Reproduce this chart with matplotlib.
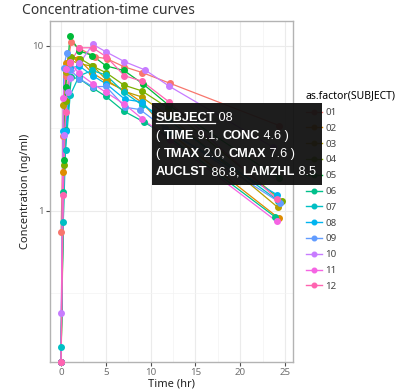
import numpy as np
import matplotlib
matplotlib.use("Agg")
import matplotlib.pyplot as plt
from matplotlib.lines import Line2D
from matplotlib.patches import Rectangle

plt.rcParams['font.family'] = ['Noto Sans', 'DejaVu Sans']

SUBJECTS = ["01", "02", "03", "04", "05", "06", "07", "08", "09", "10", "11", "12"]

TIMES = [
    [0, 0.25, 0.57, 1.12, 2.02, 3.82, 5.10, 7.03, 9.05, 12.12, 24.37],
    [0, 0.27, 0.52, 1.00, 1.92, 3.50, 5.02, 7.03, 9.00, 12.00, 24.30],
    [0, 0.27, 0.58, 1.02, 2.02, 3.62, 5.08, 7.07, 9.00, 12.15, 24.17],
    [0, 0.35, 0.60, 1.07, 2.13, 3.50, 5.02, 7.02, 9.02, 11.98, 24.65],
    [0, 0.30, 0.52, 1.00, 2.02, 3.50, 5.02, 7.02, 9.10, 12.00, 24.35],
    [0, 0.27, 0.58, 1.15, 2.03, 3.57, 5.00, 7.00, 9.22, 12.10, 23.85],
    [0, 0.25, 0.50, 1.02, 2.02, 3.48, 5.00, 6.98, 9.00, 12.05, 24.22],
    [0, 0.25, 0.52, 0.98, 2.02, 3.53, 5.05, 7.15, 9.07, 12.10, 24.12],
    [0, 0.30, 0.63, 1.05, 2.02, 3.53, 5.02, 7.17, 8.80, 11.60, 24.43],
    [0, 0.37, 0.77, 1.02, 2.05, 3.55, 5.05, 7.08, 9.38, 12.10, 23.70],
    [0, 0.25, 0.50, 0.98, 1.98, 3.60, 5.02, 7.03, 9.03, 12.12, 24.08],
    [0, 0.25, 0.50, 1.00, 2.00, 3.52, 5.07, 7.07, 9.03, 12.05, 24.15],
]

CONCS = [
    [0.74, 2.84, 6.57, 10.50, 9.66, 8.58, 8.36, 7.47, 6.89, 5.94, 3.28],
    [0.00, 1.72, 7.91, 8.31, 8.33, 6.85, 6.08, 5.40, 4.55, 3.01, 0.90],
    [0.00, 4.40, 6.90, 8.20, 7.80, 7.50, 6.20, 5.30, 4.90, 3.70, 1.05],
    [0.00, 1.89, 4.60, 8.60, 8.38, 7.54, 6.88, 5.78, 5.33, 4.19, 1.15],
    [0.00, 2.02, 5.63, 11.40, 9.33, 8.74, 7.56, 7.09, 5.90, 4.37, 1.57],
    [0.00, 1.29, 3.08, 6.44, 6.32, 5.53, 4.94, 4.02, 3.46, 2.78, 0.92],
    [0.15, 0.85, 2.35, 5.02, 6.58, 7.09, 6.66, 5.25, 4.39, 3.53, 1.15],
    [0.00, 3.05, 3.05, 7.31, 7.56, 6.59, 5.88, 4.73, 4.57, 3.00, 1.25],
    [0.00, 7.37, 9.03, 7.14, 6.33, 5.66, 5.67, 4.24, 4.11, 3.16, 1.12],
    [0.24, 2.89, 5.22, 6.41, 7.83, 10.21, 9.18, 8.02, 7.14, 5.68, 2.42],
    [0.00, 4.86, 7.24, 8.00, 6.81, 5.87, 5.22, 4.45, 3.62, 2.69, 0.86],
    [0.00, 1.25, 3.96, 7.82, 9.72, 9.75, 8.57, 6.59, 6.11, 4.57, 1.17],
]

COLORS = ["#F8766D", "#DE8C00", "#B79F00", "#7CAE00", "#00BA38", "#00C08B",
          "#00BFC4", "#00B4F0", "#619CFF", "#C77CFF", "#F564E3", "#FF64B0"]

# ggplot style limits: 5% expansion (log scale for y)
all_t = np.concatenate([np.array(t) for t in TIMES])
all_c = np.concatenate([np.array(c) for c in CONCS])
pos = all_c[all_c > 0]
lo, hi = np.log10(pos.min()), np.log10(pos.max())
ypad = (hi - lo) * 0.05
ymin, ymax = 10 ** (lo - ypad), 10 ** (hi + ypad)
xpad = (all_t.max() - all_t.min()) * 0.05
xmin, xmax = all_t.min() - xpad, all_t.max() + xpad

fig = plt.figure(figsize=(4.08, 3.91), dpi=100)
ax = fig.add_axes([50 / 408, 1 - 362 / 391, 243 / 408, 341 / 391])
ax.set_facecolor("white")

# zeros are drawn at the panel edge (log10(0) = -Inf)
for t, c, col in zip(TIMES, CONCS, COLORS):
    c = np.where(np.array(c) > 0, c, ymin)
    ax.plot(t, c, color=col, lw=0.9, zorder=3, clip_on=False)
for t, c, col in zip(TIMES, CONCS, COLORS):
    c = np.where(np.array(c) > 0, c, ymin)
    ax.plot(t, c, ls="none", marker="o", ms=4.0, color=col, zorder=4, clip_on=False)

ax.set_yscale("log")
ax.set_xlim(xmin, xmax)
ax.set_ylim(ymin, ymax)
ax.set_yticks([1, 10])
ax.set_yticklabels(["1", "10"])
ax.set_yticks([10 ** -0.5, 10 ** 0.5], minor=True)
ax.yaxis.set_minor_formatter(plt.NullFormatter())
ax.set_xticks([0, 5, 10, 15, 20, 25])
ax.set_xticks([2.5, 7.5, 12.5, 17.5, 22.5], minor=True)

ax.grid(True, which="major", color="#ebebeb", lw=0.8, zorder=0)
ax.grid(True, which="minor", color="#f3f3f3", lw=0.5, zorder=0)
ax.set_axisbelow(True)
for sp in ax.spines.values():
    sp.set_color("#b3b3b3")
    sp.set_linewidth(1.0)
ax.tick_params(which="major", length=3, color="#4d4d4d", labelcolor="#707070",
               labelsize=7, pad=1.5)
ax.tick_params(which="minor", length=0)

ax.set_xlabel("Time (hr)", fontsize=8, color="#222222", labelpad=1)
ax.set_ylabel("Concentration (ng/ml)", fontsize=8, color="#222222", labelpad=1)
fig.text(22 / 408, 1 - 11 / 391, "Concentration-time curves", fontsize=10,
         color="#333333", va="center", ha="left")

handles = [Line2D([0], [0], color=col, lw=1.0, marker="o", ms=3.3) for col in COLORS]
leg = fig.legend(handles, SUBJECTS, loc="upper left",
                 bbox_to_anchor=(306 / 408, 1 - 90 / 391), frameon=False,
                 title="as.factor(SUBJECT)", fontsize=7, title_fontsize=7.5,
                 handlelength=1.6, handletextpad=0.4, labelspacing=0.7,
                 borderaxespad=0, borderpad=0)
leg._legend_box.align = "left"
leg._legend_box.sep = 5
for txt in leg.get_texts():
    txt.set_color("#444444")

# hover tooltip box
fig.patches.append(Rectangle((152 / 408, 1 - 185 / 391), 170 / 408, 82 / 391,
                             transform=fig.transFigure, facecolor="#111111",
                             edgecolor="none", zorder=10, alpha=0.95))

fig.canvas.draw()
renderer = fig.canvas.get_renderer()
lines = [
    [("SUBJECT", True), (" 08", False)],
    [("( ", False), ("TIME", True), (" 9.1, ", False), ("CONC", True), (" 4.6 )", False)],
    [("( ", False), ("TMAX", True), (" 2.0, ", False), ("CMAX", True), (" 7.6 )", False)],
    [("AUCLST", True), (" 86.8, ", False), ("LAMZHL", True), (" 8.5", False)],
]
baselines = [121, 139, 157, 175]
for parts, yb in zip(lines, baselines):
    xpix = 156.0
    for i, (s, bold) in enumerate(parts):
        t = fig.text(xpix / 408, 1 - yb / 391, s, color="white", fontsize=9.2,
                     family=["Liberation Sans", "DejaVu Sans"],
                     fontweight="bold" if bold else "normal",
                     va="baseline", ha="left", zorder=11)
        bb = t.get_window_extent(renderer)
        if s == "SUBJECT":
            fig.add_artist(Line2D([bb.x0 / 408, bb.x1 / 408],
                                  [1 - (yb + 2) / 391, 1 - (yb + 2) / 391],
                                  transform=fig.transFigure, color="white",
                                  lw=0.9, zorder=11))
        xpix += bb.width

fig.savefig("out.png", dpi=100)
